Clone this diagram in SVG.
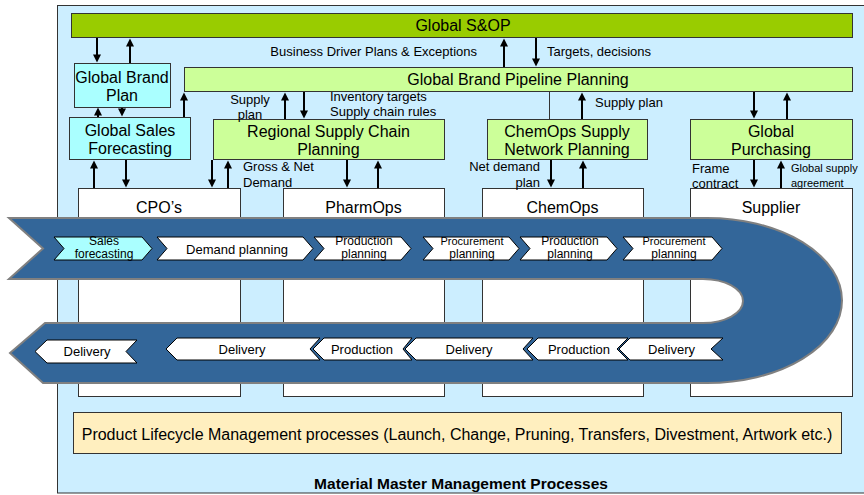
<svg xmlns="http://www.w3.org/2000/svg" width="864" height="495" viewBox="0 0 864 495">
<defs>
<style>
text{font-family:"Liberation Sans",Arial,sans-serif;fill:#000}
.t16{font-size:16px;text-anchor:middle}
.t13{font-size:13px}
.c13{font-size:13px;text-anchor:middle}
.c12{font-size:12px;text-anchor:middle}
.c11{font-size:11px;text-anchor:middle}
.box{stroke:#333;stroke-width:1}
.cyan{fill:#aaffff}
.lg{fill:#ccff99}
.dg{fill:#99cc00}
.lane{fill:#fff;stroke:#333;stroke-width:1}
.chev{fill:#fff;stroke:#000;stroke-width:1}
.arr{stroke:#000;stroke-width:2;fill:none;marker-end:url(#ah)}
</style>
<marker id="ah" viewBox="0 0 10 10" refX="5.5" refY="5" markerWidth="9" markerHeight="8" markerUnits="userSpaceOnUse" orient="auto"><path d="M0,0 L10,5 L0,10 z" fill="#000"/></marker>
</defs>
<rect x="0" y="0" width="864" height="495" fill="#fff"/>
<g id="frame">
<rect x="57.5" y="5.5" width="820" height="487.5" fill="#cceeff" stroke="#333" stroke-width="1"/>
</g>
<g id="lanes">
<g id="lane-cpo"><rect class="lane" x="78.5" y="188.5" width="162" height="208"/><text class="t16" x="159" y="213">CPO’s</text></g>
<g id="lane-pharmops"><rect class="lane" x="283.5" y="188.5" width="161" height="208"/><text class="t16" x="363.5" y="213">PharmOps</text></g>
<g id="lane-chemops"><rect class="lane" x="482.5" y="188.5" width="161" height="208"/><text class="t16" x="562.5" y="213">ChemOps</text></g>
<g id="lane-supplier"><rect class="lane" x="690.5" y="188.5" width="162" height="208"/><text class="t16" x="771" y="213">Supplier</text></g>
</g>
<g id="sop"><rect class="box dg" x="71.5" y="13.5" width="781" height="24"/><text class="t16" x="463" y="31">Global S&amp;OP</text></g>
<g id="pipeline"><rect class="box lg" x="184.5" y="67.5" width="668" height="24"/><text class="t16" x="518" y="85">Global Brand Pipeline Planning</text></g>
<g id="brand-plan"><rect class="box cyan" x="74.5" y="63.5" width="96" height="44"/><text class="t16" x="122" y="83">Global Brand</text><text class="t16" x="122" y="101">Plan</text></g>
<g id="sales-forecasting"><rect class="box cyan" x="69.5" y="117.5" width="121" height="42"/><text class="t16" x="130" y="136">Global Sales</text><text class="t16" x="130" y="154">Forecasting</text></g>
<g id="regional"><rect class="box lg" x="213.5" y="119.5" width="231" height="40"/><text class="t16" x="328.5" y="137">Regional Supply Chain</text><text class="t16" x="328.5" y="155">Planning</text></g>
<g id="chemops-planning"><rect class="box lg" x="487.5" y="119.5" width="160" height="40"/><text class="t16" x="567" y="137">ChemOps Supply</text><text class="t16" x="567" y="155">Network Planning</text></g>
<g id="purchasing"><rect class="box lg" x="690.5" y="119.5" width="162" height="40"/><text class="t16" x="771" y="137">Global</text><text class="t16" x="771" y="155">Purchasing</text></g>
<g id="connectors">
<line class="arr" x1="97" y1="38" x2="97" y2="59"/>
<line class="arr" x1="130" y1="63" x2="130" y2="42"/>
<line class="arr" x1="98" y1="117" x2="98" y2="111"/>
<line class="arr" x1="122" y1="108" x2="122" y2="113"/>
<line class="arr" x1="184" y1="117" x2="184" y2="96"/>
<line class="arr" x1="94" y1="188" x2="94" y2="164"/>
<line class="arr" x1="126" y1="160" x2="126" y2="184"/>
<line class="arr" x1="212" y1="160" x2="212" y2="184"/>
<line class="arr" x1="228" y1="188" x2="228" y2="164"/>
<line class="arr" x1="285" y1="119" x2="285" y2="96"/>
<line class="arr" x1="304" y1="92" x2="304" y2="115"/>
<line class="arr" x1="347" y1="160" x2="347" y2="184"/>
<line class="arr" x1="378" y1="188" x2="378" y2="164"/>
<line class="arr" x1="504" y1="67" x2="504" y2="42"/>
<line class="arr" x1="536" y1="38" x2="536" y2="63"/>
<line x1="549.5" y1="92" x2="549.5" y2="119" stroke="#333" stroke-width="1"/>
<line class="arr" x1="582" y1="119" x2="582" y2="96"/>
<line class="arr" x1="551" y1="160" x2="551" y2="184"/>
<line class="arr" x1="583" y1="188" x2="583" y2="164"/>
<line class="arr" x1="754" y1="92" x2="754" y2="115"/>
<line class="arr" x1="787" y1="119" x2="787" y2="96"/>
<line class="arr" x1="754" y1="160" x2="754" y2="184"/>
<line class="arr" x1="781" y1="188" x2="781" y2="164"/>
</g>
<g id="connector-labels">
<text class="t13" x="477" y="56" text-anchor="end">Business Driver Plans &amp; Exceptions</text>
<text class="t13" x="547" y="56">Targets, decisions</text>
<text class="c13" x="250" y="104">Supply</text>
<text class="c13" x="250" y="119">plan</text>
<text class="t13" x="330" y="101">Inventory targets</text>
<text class="t13" x="330" y="116">Supply chain rules</text>
<text class="t13" x="595" y="107">Supply plan</text>
<text class="t13" x="243" y="171">Gross &amp; Net</text>
<text class="t13" x="243" y="187">Demand</text>
<text class="t13" x="540" y="171" text-anchor="end">Net demand</text>
<text class="t13" x="540" y="187" text-anchor="end">plan</text>
<text class="t13" x="692" y="173">Frame</text>
<text class="t13" x="692" y="188">contract</text>
<text x="791" y="172" font-size="11">Global supply</text>
<text x="791" y="187" font-size="11">agreement</text>
</g>
<g id="process-band">
<path d="M9,218 H707 A135,82.5 0 0 1 707,383 H43 L10,353 L45,323 H703 A40,22 0 0 0 703,279 H9 L43,248.5 Z" fill="#336699" stroke="#808080" stroke-width="2" stroke-linejoin="miter"/>
</g>
<g id="step-sales-forecasting"><polygon class="chev" points="54,237 142,237 152,248.5 142,260 54,260 64,248.5" style="fill:#aaffff"/><text class="c12" x="104" y="244.5">Sales</text><text class="c12" x="104" y="258">forecasting</text></g>
<g id="step-demand-planning"><polygon class="chev" points="157,237 303,237 313,248.5 303,260 157,260 167,248.5"/><text class="c13" x="237" y="254">Demand planning</text></g>
<g id="step-production-planning-1"><polygon class="chev" points="314,237 401,237 411,248.5 401,260 314,260 324,248.5"/><text class="c12" x="364" y="244.5">Production</text><text class="c12" x="364" y="258">planning</text></g>
<g id="step-procurement-planning-1"><polygon class="chev" points="423,237 509,237 519,248.5 509,260 423,260 433,248.5"/><text class="c11" x="472" y="244.5">Procurement</text><text class="c12" x="472" y="258">planning</text></g>
<g id="step-production-planning-2"><polygon class="chev" points="520,237 607,237 617,248.5 607,260 520,260 530,248.5"/><text class="c12" x="570" y="244.5">Production</text><text class="c12" x="570" y="258">planning</text></g>
<g id="step-procurement-planning-2"><polygon class="chev" points="623,237 712,237 722,248.5 712,260 623,260 633,248.5"/><text class="c11" x="674" y="244.5">Procurement</text><text class="c12" x="674" y="258">planning</text></g>
<g id="step-delivery-1"><polygon class="chev" points="35,351.5 47,340 137,340 126,351.5 137,363 47,363"/><text class="c13" x="87" y="356">Delivery</text></g>
<g id="step-delivery-2"><polygon class="chev" points="166,349 177,338 320,338 310,349 320,360 177,360"/><text class="c13" x="242" y="354">Delivery</text></g>
<g id="step-production-1"><polygon class="chev" points="313,349 324,338 412,338 403,349 412,360 324,360"/><text class="c13" x="362" y="354">Production</text></g>
<g id="step-delivery-3"><polygon class="chev" points="405,349 416,338 533,338 523,349 533,360 416,360"/><text class="c13" x="469" y="354">Delivery</text></g>
<g id="step-production-2"><polygon class="chev" points="527,349 538,338 628,338 617,349 628,360 538,360"/><text class="c13" x="579" y="354">Production</text></g>
<g id="step-delivery-4"><polygon class="chev" points="619,349 630,338 723,338 711,349 723,360 630,360"/><text class="c13" x="671.5" y="354">Delivery</text></g>
<g id="plm"><rect x="73.5" y="412.5" width="768" height="41" fill="#ffefbf" stroke="#333" stroke-width="1"/><text class="t16" x="457" y="440">Product Lifecycle Management processes (Launch, Change, Pruning, Transfers, Divestment, Artwork etc.)</text></g>
<text x="461" y="489" font-size="15.5" font-weight="bold" text-anchor="middle">Material Master Management Processes</text>
</svg>
